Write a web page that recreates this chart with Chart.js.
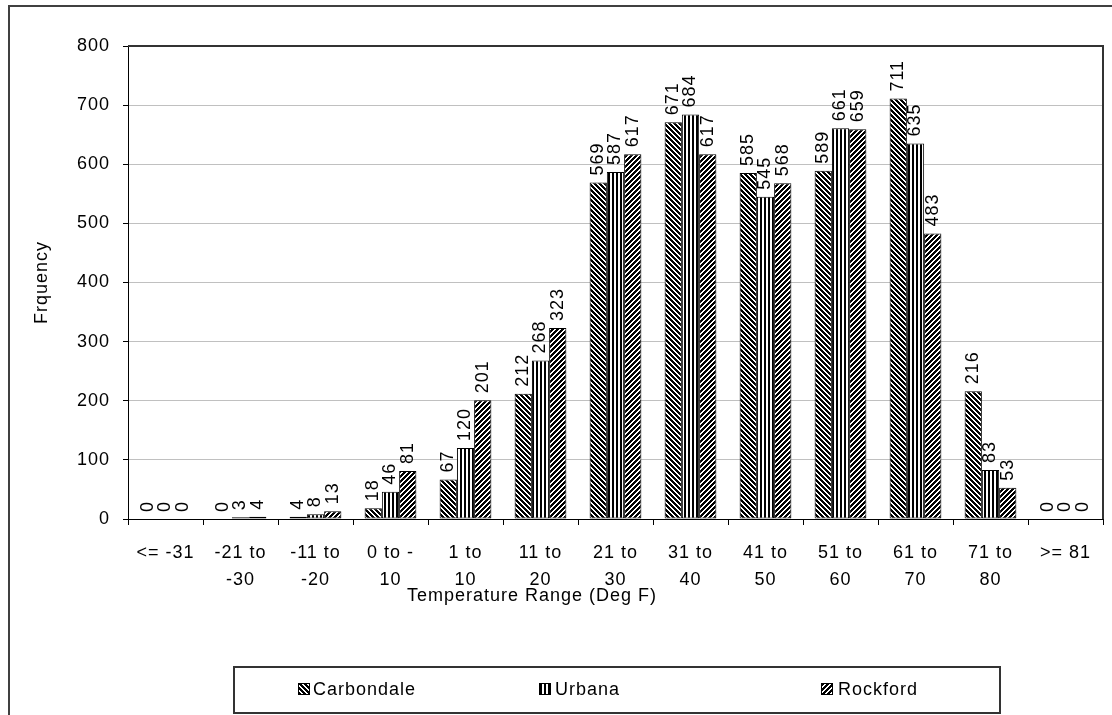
<!DOCTYPE html>
<html><head><meta charset="utf-8">
<script src="https://cdn.jsdelivr.net/npm/chart.js@4.4.1/dist/chart.umd.min.js"></script>
<style>html,body{margin:0;padding:0;background:#fff;}</style>
</head><body>
<canvas id="c" width="1112" height="715"></canvas>
<script>
// ---- data ----
const categories = [["<= -31"],["-21 to","-30"],["-11 to","-20"],["0 to -","10"],["1 to","10"],["11 to","20"],["21 to","30"],["31 to","40"],["41 to","50"],["51 to","60"],["61 to","70"],["71 to","80"],[">= 81"]];
const seriesNames = ["Carbondale","Urbana","Rockford"];
const carbondale = [0,0,4,18,67,212,569,671,585,589,711,216,0];
const urbana     = [0,3,8,46,120,268,587,684,545,661,635,83,0];
const rockford   = [0,4,13,81,201,323,617,617,568,659,483,53,0];
const yTicks = [0,100,200,300,400,500,600,700,800];
const xTitle = "Temperature Range (Deg F)";
const yTitle = "Frquency";

// ---- hatch patterns ----
function makePattern(kind){
  const n = kind === 'v' ? 4 : 5;
  const cv = document.createElement('canvas'); cv.width = n; cv.height = n;
  const g = cv.getContext('2d');
  const img = g.createImageData(n, n);
  for (let y=0;y<n;y++) for (let x=0;x<n;x++){
    let black;
    if (kind === 'b') black = (((x - y) % n) + n) % n < 3;
    else if (kind === 'f') black = (x + y) % n < 3;
    else black = x % n < 2;
    const i = (y*n + x)*4;
    const c = black ? 0 : 255;
    img.data[i]=c; img.data[i+1]=c; img.data[i+2]=c; img.data[i+3]=255;
  }
  g.putImageData(img,0,0);
  return document.getElementById('c').getContext('2d').createPattern(cv,'repeat');
}
const patterns = [makePattern('b'), makePattern('v'), makePattern('f')];
const FONT = "'Liberation Sans', Arial, sans-serif";

const dataLabels = {
  id:'dataLabels',
  afterDatasetsDraw(chart){
    const ctx = chart.ctx;
    chart.data.datasets.forEach((ds, di) => {
      const meta = chart.getDatasetMeta(di);
      meta.data.forEach((el, i) => {
        ctx.save();
        ctx.letterSpacing = '1px';
        ctx.font = "18px " + FONT;
        ctx.fillStyle = '#000';
        ctx.translate(el.x, el.y - 7);
        ctx.rotate(-Math.PI/2);
        ctx.textAlign = 'left';
        ctx.textBaseline = 'middle';
        ctx.fillText(String(ds.data[i]), 0, 0);
        ctx.restore();
      });
    });
  }
};

const frame = {
  id:'frame',
  beforeDraw(chart){
    const ctx = chart.ctx;
    ctx.letterSpacing = '1px';
    ctx.save();
    ctx.fillStyle = '#fff';
    ctx.fillRect(0,0,chart.width,chart.height);
    ctx.strokeStyle = '#404040';
    ctx.lineWidth = 2;
    ctx.strokeRect(9, 6, 1300, 900);
    ctx.restore();
  },
  afterDraw(chart){
    const ctx = chart.ctx;
    const a = chart.chartArea;
    ctx.save();
    ctx.strokeStyle = '#333';
    ctx.lineWidth = 2;
    ctx.beginPath();
    ctx.moveTo(a.left, a.top); ctx.lineTo(a.right, a.top); ctx.lineTo(a.right, a.bottom);
    ctx.stroke();
    ctx.font = "18px " + FONT;
    ctx.letterSpacing = '1px';
    ctx.textBaseline = 'middle';
    // x axis title
    ctx.textAlign = 'center';
    ctx.fillStyle = '#000';
    ctx.fillText(xTitle, 532, 596);
    // legend
    ctx.strokeRect(234, 667, 766, 46);
    const mx = [298, 539, 821];
    const tx = [313, 555, 838];
    ctx.textAlign = 'left';
    chart.data.datasets.forEach((ds, i) => {
      ctx.fillStyle = patterns[i];
      ctx.fillRect(mx[i], 683, 12, 12);
      ctx.lineWidth = 1;
      ctx.strokeStyle = '#000';
      ctx.strokeRect(mx[i]+0.5, 683.5, 11, 11);
      ctx.fillStyle = '#000';
      ctx.fillText(ds.label, tx[i], 690);
    });
    ctx.restore();
  }
};

const seriesValues = [carbondale, urbana, rockford];
new Chart(document.getElementById('c'), {
  type:'bar',
  data:{
    labels: categories,
    datasets: seriesNames.map((name, i) => ({
      label: name,
      data: seriesValues[i],
      backgroundColor: patterns[i],
      borderColor:'#000',
      borderWidth:1,
      borderSkipped:false,
      categoryPercentage:0.69,
      barPercentage:1.0
    }))
  },
  options:{
    responsive:false,
    animation:false,
    devicePixelRatio:1,
    layout:{padding:{top:46,right:9,left:0,bottom:0}},
    plugins:{legend:{display:false}, tooltip:{enabled:false}},
    scales:{
      x:{
        grid:{offset:true, drawOnChartArea:false, tickLength:6, tickColor:'#000', lineWidth:1},
        border:{color:'#000', width:1},
        ticks:{color:'#000', font:{family:FONT, size:18, lineHeight:1.5}, padding:15, maxRotation:0, minRotation:0, autoSkip:false},
        title:{display:false, text:xTitle},
        afterFit(s){ s.height = 196; }
      },
      y:{
        min:0, max:800,
        afterBuildTicks(s){ s.ticks = yTicks.map(v => ({value:v})); },
        grid:{color:'#c0c0c0', tickColor:'#000', tickLength:5, lineWidth:1},
        border:{color:'#000', width:1},
        ticks:{color:'#000', font:{family:FONT, size:18}, padding:13},
        title:{display:true, text:yTitle, color:'#000', font:{family:FONT, size:18, lineHeight:1.2}, padding:{top:31,bottom:0}},
        afterFit(s){ s.width = 128; }
      }
    }
  },
  plugins:[frame, dataLabels]
});
</script>
</body></html>
